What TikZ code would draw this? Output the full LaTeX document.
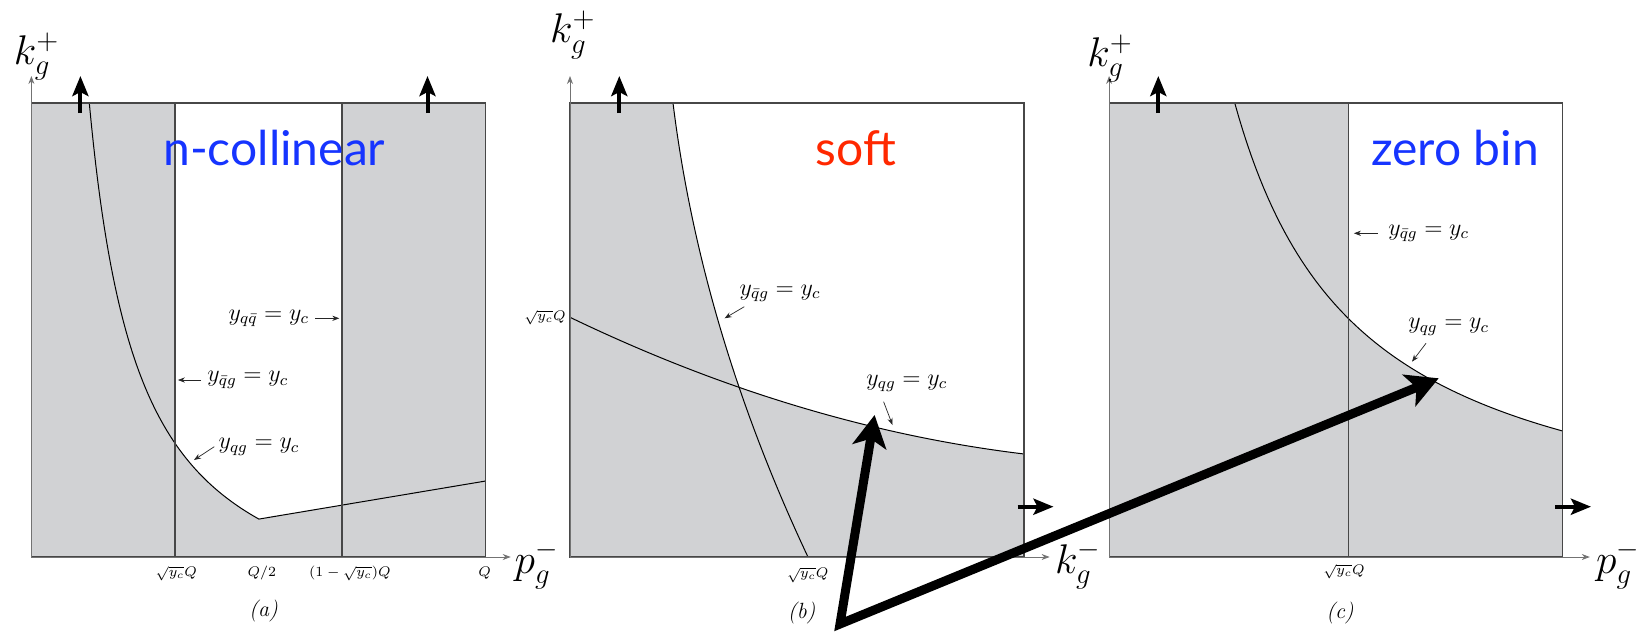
\documentclass[tikz,border=0pt]{standalone}
\usepackage{fontspec}
\usepackage{amsmath}
\usetikzlibrary{arrows.meta, positioning}
\newfontfamily\gillfont{Lato}
\definecolor{phasegray}{RGB}{209,210,212}
\definecolor{nblue}{RGB}{22,52,255}
\definecolor{sred}{RGB}{255,40,0}

\begin{document}
\begin{tikzpicture}[x=0.5pt, y=-0.5pt,
    frame/.style={draw=black!72, line width=0.55pt},
    bound/.style={draw=black, line width=0.5pt},
    axis/.style={draw=black!55, line width=0.4pt, -{Stealth[length=4pt,width=3pt]}},
    hint/.style={draw=black!85, line width=0.35pt, -{Stealth[length=3.5pt,width=2.6pt]}},
    flow/.style={line width=2pt, -{Stealth[length=10pt,width=8pt,inset=2pt]}},
    axlabel/.style={font=\fontsize{20}{24}\selectfont, inner sep=0pt},
    cut/.style={font=\fontsize{12}{14}\selectfont, inner sep=1pt},
    tick/.style={font=\fontsize{7.5}{9}\selectfont, inner sep=0pt},
    tag/.style={font=\fontsize{11}{13}\selectfont\itshape, inner sep=0pt},
    title/.style={font=\gillfont\fontsize{24}{27}\selectfont, inner sep=0pt, anchor=base}]
\useasboundingbox (0,0) rectangle (1651,633);

\fill[phasegray] (31.4,103) rectangle (485.7,557);
\begin{scope}
  \clip (175,103) rectangle (342,557);
  \fill[white] plot[domain=57.9:227.5, samples=80, variable=\u] ({31.4+\u},{556.7-(269.3/((\u-7.9)/100)-85)}) -- (485.7,481) -- (485.7,103) -- cycle;
\end{scope}
\draw[bound] plot[domain=57.9:227.5, samples=80, variable=\u] ({31.4+\u},{556.7-(269.3/((\u-7.9)/100)-85)}) -- (485.7,481);
\draw[frame] (175,103) -- (175,557);
\draw[frame] (342,103) -- (342,557);
\draw[frame] (31.4,557) rectangle (485.7,103);
\draw[axis] (31.4,557) -- (31.4,76);
\draw[axis] (31.4,557) -- (510.7,557);
\draw[flow] (80.4,113) -- ++(0,-37);
\draw[flow] (427.5,113) -- ++(0,-37);
\node[title, text=nblue] (ncoll) at (274.3,165.7) {n-collinear};
\node[axlabel] (kpa) at (36.6,56.7) {$k_g^+$};
\node[axlabel] (pma) at (536.6,565) {$p_g^-$};
\node[cut] (qqa) at (268.8,318.3) {$y_{q\bar q}=y_c$};
\node[cut] (qbga) at (247.8,380) {$y_{\bar q g}=y_c$};
\node[cut] (qga) at (259,446.7) {$y_{qg}=y_c$};
\coordinate (qqa-tip) at (339.3,318.3);
\coordinate (qbga-tip) at (177.9,380);
\coordinate (qga-tip) at (194,460);
\draw[hint] ([xshift=2pt]qqa.east) -- (qqa-tip);
\draw[hint] ([xshift=-2pt]qbga.west) -- (qbga-tip);
\draw[hint] ([xshift=-1pt]qga.west) -- (qga-tip);
\node[tick] (ta1) at (176.4,573.3) {$\sqrt{y_c}Q$};
\node[tick] (ta2) at (261.8,573.3) {$Q/2$};
\node[tick] (ta3) at (350,573.3) {$(1-\sqrt{y_c})Q$};
\node[tick] (ta4) at (484.6,573.3) {$Q$};
\node[tag] (taga) at (263.5,611) {(a)};

\fill[phasegray] (570,103) rectangle (1024,557);
\begin{scope}
  \clip plot[domain=0:453.7, samples=80, variable=\t] ({673+0.1239*\t+3.82*(\t/100)^2},{103+\t}) -- (1024,557) -- (1024,103) -- cycle;
  \fill[white] plot[domain=0:454, samples=80, variable=\s] ({570+\s},{317.3+0.4813*\s-3.97*(\s/100)^2}) -- (1024,103) -- (570,103) -- cycle;
\end{scope}
\draw[bound] plot[domain=0:453.7, samples=80, variable=\t] ({673+0.1239*\t+3.82*(\t/100)^2},{103+\t});
\draw[bound] plot[domain=0:454, samples=80, variable=\s] ({570+\s},{317.3+0.4813*\s-3.97*(\s/100)^2});
\draw[frame] (570,557) rectangle (1024,103);
\draw[axis] (570,557) -- (570,76);
\draw[axis] (570,557) -- (1049.6,557);
\draw[flow] (619.3,113) -- ++(0,-37);
\draw[flow] (1017.5,506.7) -- ++(36,0);
\node[title, text=sred] (soft) at (856,165.7) {soft};
\node[axlabel] (kpb) at (572.8,35) {$k_g^+$};
\node[axlabel] (kmb) at (1078,565) {$k_g^-$};
\node[cut] (qbgb) at (780,293.3) {$y_{\bar q g}=y_c$};
\node[cut] (qgb) at (906.8,383.3) {$y_{qg}=y_c$};
\coordinate (qbgb-from) at (744.3,306.7);
\coordinate (qbgb-tip) at (724.6,318.3);
\coordinate (qgb-from) at (883.6,401.7);
\coordinate (qgb-tip) at (892.5,425);
\draw[hint] (qbgb-from) -- (qbgb-tip);
\draw[hint] (qgb-from) -- (qgb-tip);
\node[tick] (tb1) at (807.7,575) {$\sqrt{y_c}Q$};
\node[tick, anchor=east] (tb2) at (566,317.3) {$\sqrt{y_c}Q$};
\node[tag] (tagb) at (801.7,613) {(b)};

\fill[phasegray] (1109.1,103) rectangle (1562.5,557);
\begin{scope}
  \clip (1348.4,103) rectangle (1562.5,557);
  \fill[white] plot[domain=125.7:453.4, samples=80, variable=\u] ({1109.1+\u},{556.7-570/(\u/100)}) -- (1562.5,103) -- cycle;
\end{scope}
\draw[bound] plot[domain=125.7:453.4, samples=80, variable=\u] ({1109.1+\u},{556.7-570/(\u/100)});
\draw[frame] (1348.4,103) -- (1348.4,557);
\draw[frame] (1109.1,557) rectangle (1562.5,103);
\draw[axis] (1109.1,557) -- (1109.1,76);
\draw[axis] (1109.1,557) -- (1589.8,557);
\draw[flow] (1158.3,113) -- ++(0,-37);
\draw[flow] (1555,506.7) -- ++(36,0);
\node[title, text=nblue] (zbin) at (1455,165.7) {zero bin};
\node[axlabel] (kpc) at (1110,58.3) {$k_g^+$};
\node[axlabel] (pmc) at (1618,565) {$p_g^-$};
\node[cut] (qbgc) at (1428.7,233.3) {$y_{\bar q g}=y_c$};
\node[cut] (qgc) at (1448.7,326.7) {$y_{qg}=y_c$};
\coordinate (qbgc-tip) at (1353.9,233.3);
\coordinate (qgc-from) at (1426,343.3);
\coordinate (qgc-tip) at (1412,361.7);
\draw[hint] ([xshift=-4pt]qbgc.west) -- (qbgc-tip);
\draw[hint] (qgc-from) -- (qgc-tip);
\node[tick] (tc1) at (1344,571.7) {$\sqrt{y_c}Q$};
\node[tag] (tagc) at (1340,613) {(c)};

\coordinate (src) at (840,624);
\coordinate (hitb) at (874.6,415);
\coordinate (hitc) at (1438.7,378.3);
\draw[line width=4.5pt, line join=miter, {Stealth[length=16pt,width=17pt,inset=4pt]}-{Stealth[length=16pt,width=17pt,inset=4pt]}] (hitb) -- (src) -- (hitc);
\end{tikzpicture}
\end{document}
